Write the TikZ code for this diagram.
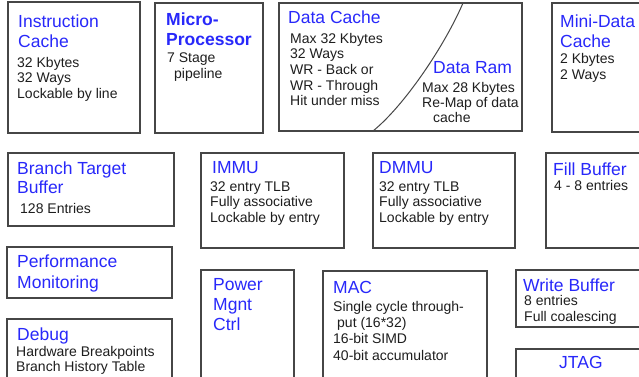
\documentclass[tikz,border=0pt]{standalone}
\usepackage{fontspec}
\setmainfont{Liberation Sans}
\definecolor{ttlblue}{RGB}{40,40,250}
\definecolor{bodytxt}{RGB}{30,30,30}
\definecolor{boxline}{RGB}{70,70,70}
\tikzset{
  blk/.style={draw=boxline, line width=1.3pt, fill=white},
  ttl/.style={anchor=base west, inner sep=0pt, align=left, text=ttlblue,
              font=\fontsize{17.5}{20}\selectfont},
  ttlb/.style={ttl, font=\fontsize{17.5}{20}\selectfont\bfseries},
  bdy/.style={anchor=base west, inner sep=0pt, align=left, text=bodytxt,
              font=\fontsize{14}{16}\selectfont},
}
\begin{document}
\begin{tikzpicture}[x=1pt,y=-1pt]
\useasboundingbox (0,0) rectangle (639,376);
\fill[white] (0,0) rectangle (639,376);
\clip (0,0) rectangle (639,376);
% boxes
\draw[blk] (8,2) rectangle (140,133);
\draw[blk] (155,3) rectangle (263,133);
\draw[blk] (279,3) rectangle (522,131);
\draw[blk] (552,3) rectangle (650,132);
\draw[blk] (8,153) rectangle (174,226);
\draw[blk] (201,153) rectangle (344,248);
\draw[blk] (373,153) rectangle (515,248);
\draw[blk] (546,153) rectangle (650,248);
\draw[blk] (7,247) rectangle (172,298);
\draw[blk] (7,319) rectangle (172,390);
\draw[blk] (201,270) rectangle (294,390);
\draw[blk] (323,271) rectangle (487,390);
\draw[blk] (516,270) rectangle (650,327);
\draw[blk] (516,349) rectangle (650,390);
% data cache / data ram divider
\coordinate (dvb) at (373,131);
\coordinate (dvt) at (463,3);
\draw[boxline, line width=1pt] (dvb) .. controls (405,105) and (445,45) .. (dvt);
% (multi-line nodes: coordinate = baseline of the LAST line)
% Instruction cache
\node[ttl] (ict) at (18,47) {Instruction\\Cache};
\node[bdy, font=\fontsize{14}{15.8}\selectfont] (icb) at (17,98.6) {32 Kbytes\\32 Ways\\Lockable by line};
% Micro-Processor
\node[ttlb] (mpt) at (166,45) {Micro-\\Processor};
\node[bdy, font=\fontsize{14}{16.5}\selectfont] (mpb) at (167,78.5) {7 Stage\\\hspace*{7pt}pipeline};
% Data cache
\node[ttl] (dct) at (288,23) {Data Cache};
\node[bdy, font=\fontsize{14}{15.7}\selectfont] (dcb) at (290,105.8) {Max 32 Kbytes\\32 Ways\\WR - Back or\\WR - Through\\Hit under miss};
% Data ram
\node[ttl] (drt) at (433,73) {Data Ram};
\node[bdy, font=\fontsize{14}{15}\selectfont] (drb) at (422,122) {Max 28 Kbytes\\Re-Map of data\\\hspace*{11pt}cache};
% Mini data cache
\node[ttl] (mdt) at (560,47) {Mini-Data\\Cache};
\node[bdy] (mdb) at (560,79) {2 Kbytes\\2 Ways};
% Branch target buffer
\node[ttl, font=\fontsize{17.5}{19}\selectfont] (btt) at (17,193) {Branch Target\\Buffer};
\node[bdy] (btb) at (20,213) {128 Entries};
% IMMU
\node[ttl] (imt) at (212,173) {IMMU};
\node[bdy, font=\fontsize{14}{15.5}\selectfont] (imb) at (210,222) {32 entry TLB\\Fully associative\\Lockable by entry};
% DMMU
\node[ttl] (dmt) at (379,173) {DMMU};
\node[bdy, font=\fontsize{14}{15.5}\selectfont] (dmb) at (379,222) {32 entry TLB\\Fully associative\\Lockable by entry};
% Fill buffer
\node[ttl] (fbt) at (553,175) {Fill Buffer};
\node[bdy] (fbb) at (554,190) {4 - 8 entries};
% Performance monitoring
\node[ttl, font=\fontsize{17.5}{21}\selectfont] (pmt) at (17,288) {Performance\\Monitoring};
% Debug
\node[ttl] (dbt) at (17,340) {Debug};
\node[bdy, font=\fontsize{14}{15.5}\selectfont] (dbb) at (16,371.5) {Hardware Breakpoints\\Branch History Table};
% Power management
\node[ttl] (pwt) at (213,330) {Power\\Mgnt\\Ctrl};
% MAC
\node[ttl] (mat) at (333,293) {MAC};
\node[bdy, font=\fontsize{14}{16.3}\selectfont] (mab) at (333,360) {Single cycle through-\\\hspace*{4pt}put (16*32)\\16-bit SIMD\\40-bit accumulator};
% Write buffer
\node[ttl] (wbt) at (523,291) {Write Buffer};
\node[bdy] (wbb) at (524,321) {8 entries\\Full coalescing};
% JTAG
\node[ttl] (jtt) at (559,368) {JTAG};
\end{tikzpicture}
\end{document}
